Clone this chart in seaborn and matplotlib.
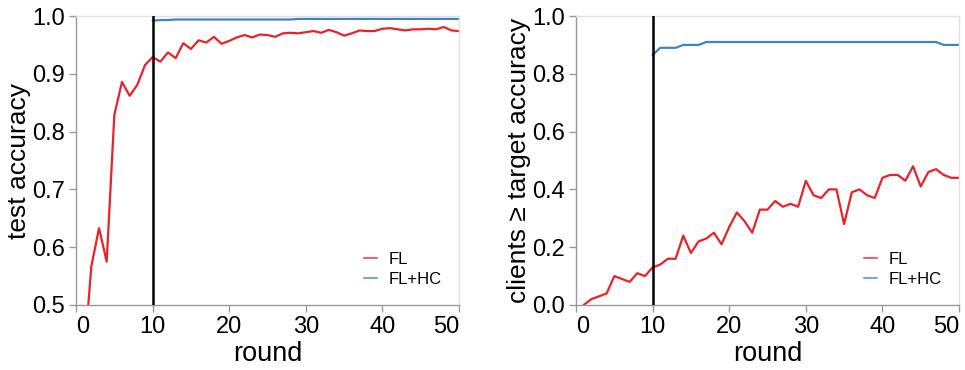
import pandas as pd
import seaborn as sns
import matplotlib.pyplot as plt

# rounds and values
rounds_fl = list(range(1, 51))
rounds_hc = list(range(10, 51))

acc_fl = [0.400, 0.567, 0.633, 0.575, 0.829, 0.886, 0.862, 0.881, 0.915, 0.929,
          0.921, 0.937, 0.927, 0.953, 0.943, 0.958, 0.954, 0.964, 0.952, 0.957,
          0.963, 0.967, 0.963, 0.968, 0.967, 0.964, 0.970, 0.971, 0.970, 0.972,
          0.974, 0.971, 0.976, 0.972, 0.966, 0.970, 0.975, 0.974, 0.974, 0.978,
          0.979, 0.977, 0.975, 0.977, 0.977, 0.978, 0.977, 0.981, 0.975, 0.974]
acc_hc = [0.992, 0.993, 0.993] + [0.994] * 16 + [0.995] * 22

frac_fl = [0.00, 0.02, 0.03, 0.04, 0.10, 0.09, 0.08, 0.11, 0.10, 0.13,
           0.14, 0.16, 0.16, 0.24, 0.18, 0.22, 0.23, 0.25, 0.21, 0.27,
           0.32, 0.29, 0.25, 0.33, 0.33, 0.36, 0.34, 0.35, 0.34, 0.43,
           0.38, 0.37, 0.40, 0.40, 0.28, 0.39, 0.40, 0.38, 0.37, 0.44,
           0.45, 0.45, 0.43, 0.48, 0.41, 0.46, 0.47, 0.45, 0.44, 0.44]
frac_hc = [0.865, 0.89, 0.89, 0.89, 0.90, 0.90, 0.90] + [0.91] * 31 + [0.90, 0.90, 0.90]

methods = ["FL", "FL+HC"]
colors = {"FL": "#e8222a", "FL+HC": "#3f84c8"}
split_round = 10

acc_df = pd.DataFrame({
    "round": rounds_fl + rounds_hc,
    "value": acc_fl + acc_hc,
    "method": [methods[0]] * len(rounds_fl) + [methods[1]] * len(rounds_hc),
})
frac_df = pd.DataFrame({
    "round": rounds_fl + rounds_hc,
    "value": frac_fl + frac_hc,
    "method": [methods[0]] * len(rounds_fl) + [methods[1]] * len(rounds_hc),
})

sns.set_style("white")
plt.rcParams['font.family'] = ['Liberation Sans', 'DejaVu Sans']
plt.rcParams['text.color'] = 'black'
plt.rcParams['axes.labelcolor'] = 'black'
plt.rcParams['xtick.labelcolor'] = 'black'
plt.rcParams['ytick.labelcolor'] = 'black'

fig = plt.figure(figsize=(9.65, 3.70), dpi=100)
ax1 = fig.add_axes([0.0788, 0.1757, 0.3969, 0.781])
ax2 = fig.add_axes([0.5969, 0.1757, 0.3969, 0.781])

panels = [
    (ax1, acc_df, "test accuracy", (0.5, 1.0), [0.5, 0.6, 0.7, 0.8, 0.9, 1.0]),
    (ax2, frac_df, "clients \u2265 target accuracy", (0.0, 1.0), [0.0, 0.2, 0.4, 0.6, 0.8, 1.0]),
]

for ax, df, ylabel, ylim, yticks in panels:
    sns.lineplot(data=df, x="round", y="value", hue="method", palette=colors,
                 linewidth=1.6, ax=ax)
    ax.axvline(split_round, color="black", linewidth=1.8, zorder=3)
    ax.set_xlim(0, 50)
    ax.set_ylim(*ylim)
    ax.set_xticks([0, 10, 20, 30, 40, 50])
    ax.set_yticks(yticks)
    ax.set_yticklabels([f"{t:.1f}" for t in yticks])
    ax.set_xlabel("round", fontsize=19.5, labelpad=2)
    ax.set_ylabel(ylabel, fontsize=19, labelpad=1)
    ax.tick_params(axis="both", labelsize=17, length=5, width=1, color="#999999",
                   pad=3, direction="out", left=True, bottom=True)
    # first and last x labels flush with the axis ends
    xlabels = ax.get_xticklabels()
    xlabels[0].set_horizontalalignment("left")
    xlabels[-1].set_horizontalalignment("right")
    for side in ["left", "bottom"]:
        ax.spines[side].set_color("#999999")
        ax.spines[side].set_linewidth(1)
    for side in ["top", "right"]:
        ax.spines[side].set_color("#e2e2e2")
        ax.spines[side].set_linewidth(1)
    leg = ax.legend(loc="lower right", frameon=False, fontsize=12,
                    handlelength=0.8, handletextpad=0.7, labelspacing=0.3,
                    borderpad=0, borderaxespad=0, bbox_to_anchor=(0.956, 0.062))
    for line in leg.get_lines():
        line.set_linewidth(1.5)
        line.set_alpha(0.7)

fig.savefig("out.png", dpi=100)
